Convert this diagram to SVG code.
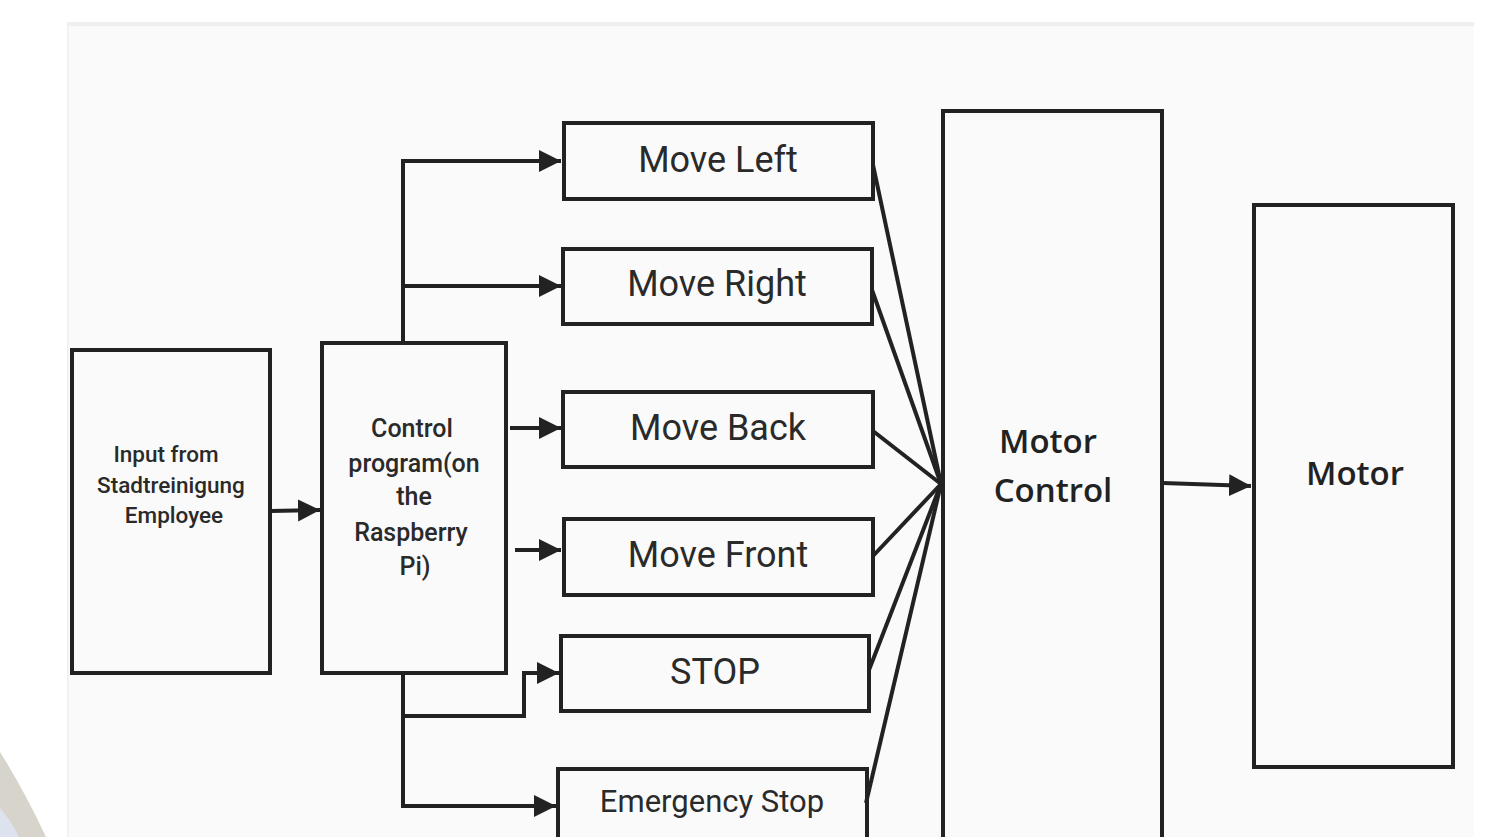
<svg xmlns="http://www.w3.org/2000/svg" width="1491" height="837" viewBox="0 0 1491 837">
<style>
.box{fill:none;stroke:#222;stroke-width:4}
.ln{fill:none;stroke:#222;stroke-width:4}
.sp{fill:none;stroke:#222;stroke-width:4}
.t{font-family:Roboto,"Liberation Sans",sans-serif;fill:#2a2a2a;text-anchor:middle}
.big{font-size:36px}
.sm{font-size:22.5px;font-weight:500}
.cp{font-size:25px;font-weight:500}
.mc{font-family:"Open Sans","Liberation Sans",sans-serif;font-weight:600;font-size:33px;fill:#222;text-anchor:middle}
</style>
<defs>
<marker id="ah" markerUnits="userSpaceOnUse" markerWidth="24" markerHeight="24" refX="22" refY="11" orient="auto">
<path d="M0,0 L22,11 L0,22 Z" fill="#222"/>
</marker>
</defs>
<rect x="0" y="0" width="1491" height="837" fill="#ffffff"/>
<rect x="67" y="22" width="1407" height="815" fill="#fafafa"/>
<rect x="67" y="22" width="1407" height="4" fill="#efefef"/>
<rect x="67" y="22" width="1.5" height="815" fill="#efefef"/>
<path d="M0,752 Q24,790 46,837 L0,837 Z" fill="#d7d4cb"/>
<path d="M0,808 Q12,822 19,837 L0,837 Z" fill="#dde3ee"/>

<g id="connectors">
<path class="ln" d="M271,511 L320,510" marker-end="url(#ah)"/>
<path class="ln" d="M403,343 L403,161 L561,161" marker-end="url(#ah)"/>
<path class="ln" d="M403,286 L561,286" marker-end="url(#ah)"/>
<path class="ln" d="M510,428 L561,428" marker-end="url(#ah)"/>
<path class="ln" d="M515,550 L561,550" marker-end="url(#ah)"/>
<path class="ln" d="M403,673 L403,806 L556,806" marker-end="url(#ah)"/>
<path class="ln" d="M403,716 L524,716 L524,673 L559,673" marker-end="url(#ah)"/>
<path class="sp" d="M873,165 L941,484"/>
<path class="sp" d="M872,290 L941,484"/>
<path class="sp" d="M873,431 L941,484"/>
<path class="sp" d="M873,556 L941,484"/>
<path class="sp" d="M869,670 L941,484"/>
<path class="sp" d="M866,803 L941,484"/>
<path class="ln" d="M1163,483 L1251,486" marker-end="url(#ah)"/>
</g>

<g id="input">
<rect class="box" x="72" y="350" width="198" height="323"/>
<text class="t sm" x="166" y="462">Input from</text>
<text class="t sm" x="171" y="493">Stadtreinigung</text>
<text class="t sm" x="174" y="523">Employee</text>
</g>

<g id="control">
<rect class="box" x="322" y="343" width="184" height="330"/>
<text class="t cp" x="412" y="437">Control</text>
<text class="t cp" x="414" y="472">program(on</text>
<text class="t cp" x="414" y="505">the</text>
<text class="t cp" x="411" y="541">Raspberry</text>
<text class="t cp" x="415" y="575">Pi)</text>
</g>

<g id="moveleft">
<rect class="box" x="564" y="123" width="309" height="76"/>
<text class="t big" x="718" y="172">Move Left</text>
</g>
<g id="moveright">
<rect class="box" x="563" y="249" width="309" height="75"/>
<text class="t big" x="717" y="296">Move Right</text>
</g>
<g id="moveback">
<rect class="box" x="563" y="392" width="310" height="75"/>
<text class="t big" x="718" y="440">Move Back</text>
</g>
<g id="movefront">
<rect class="box" x="564" y="519" width="309" height="76"/>
<text class="t big" x="718" y="567">Move Front</text>
</g>
<g id="stop">
<rect class="box" x="561" y="636" width="308" height="75"/>
<text class="t big" x="715" y="684">STOP</text>
</g>
<g id="emergency">
<rect class="box" x="558" y="769" width="309" height="90"/>
<text class="t" x="712" y="812" style="font-size:31px">Emergency Stop</text>
</g>

<g id="motorcontrol">
<rect class="box" x="943" y="111" width="219" height="760"/>
<text class="mc" x="1048" y="453">Motor</text>
<text class="mc" x="1053" y="502">Control</text>
</g>

<g id="motor">
<rect class="box" x="1254" y="205" width="199" height="562"/>
<text class="mc" x="1355" y="485">Motor</text>
</g>
</svg>
